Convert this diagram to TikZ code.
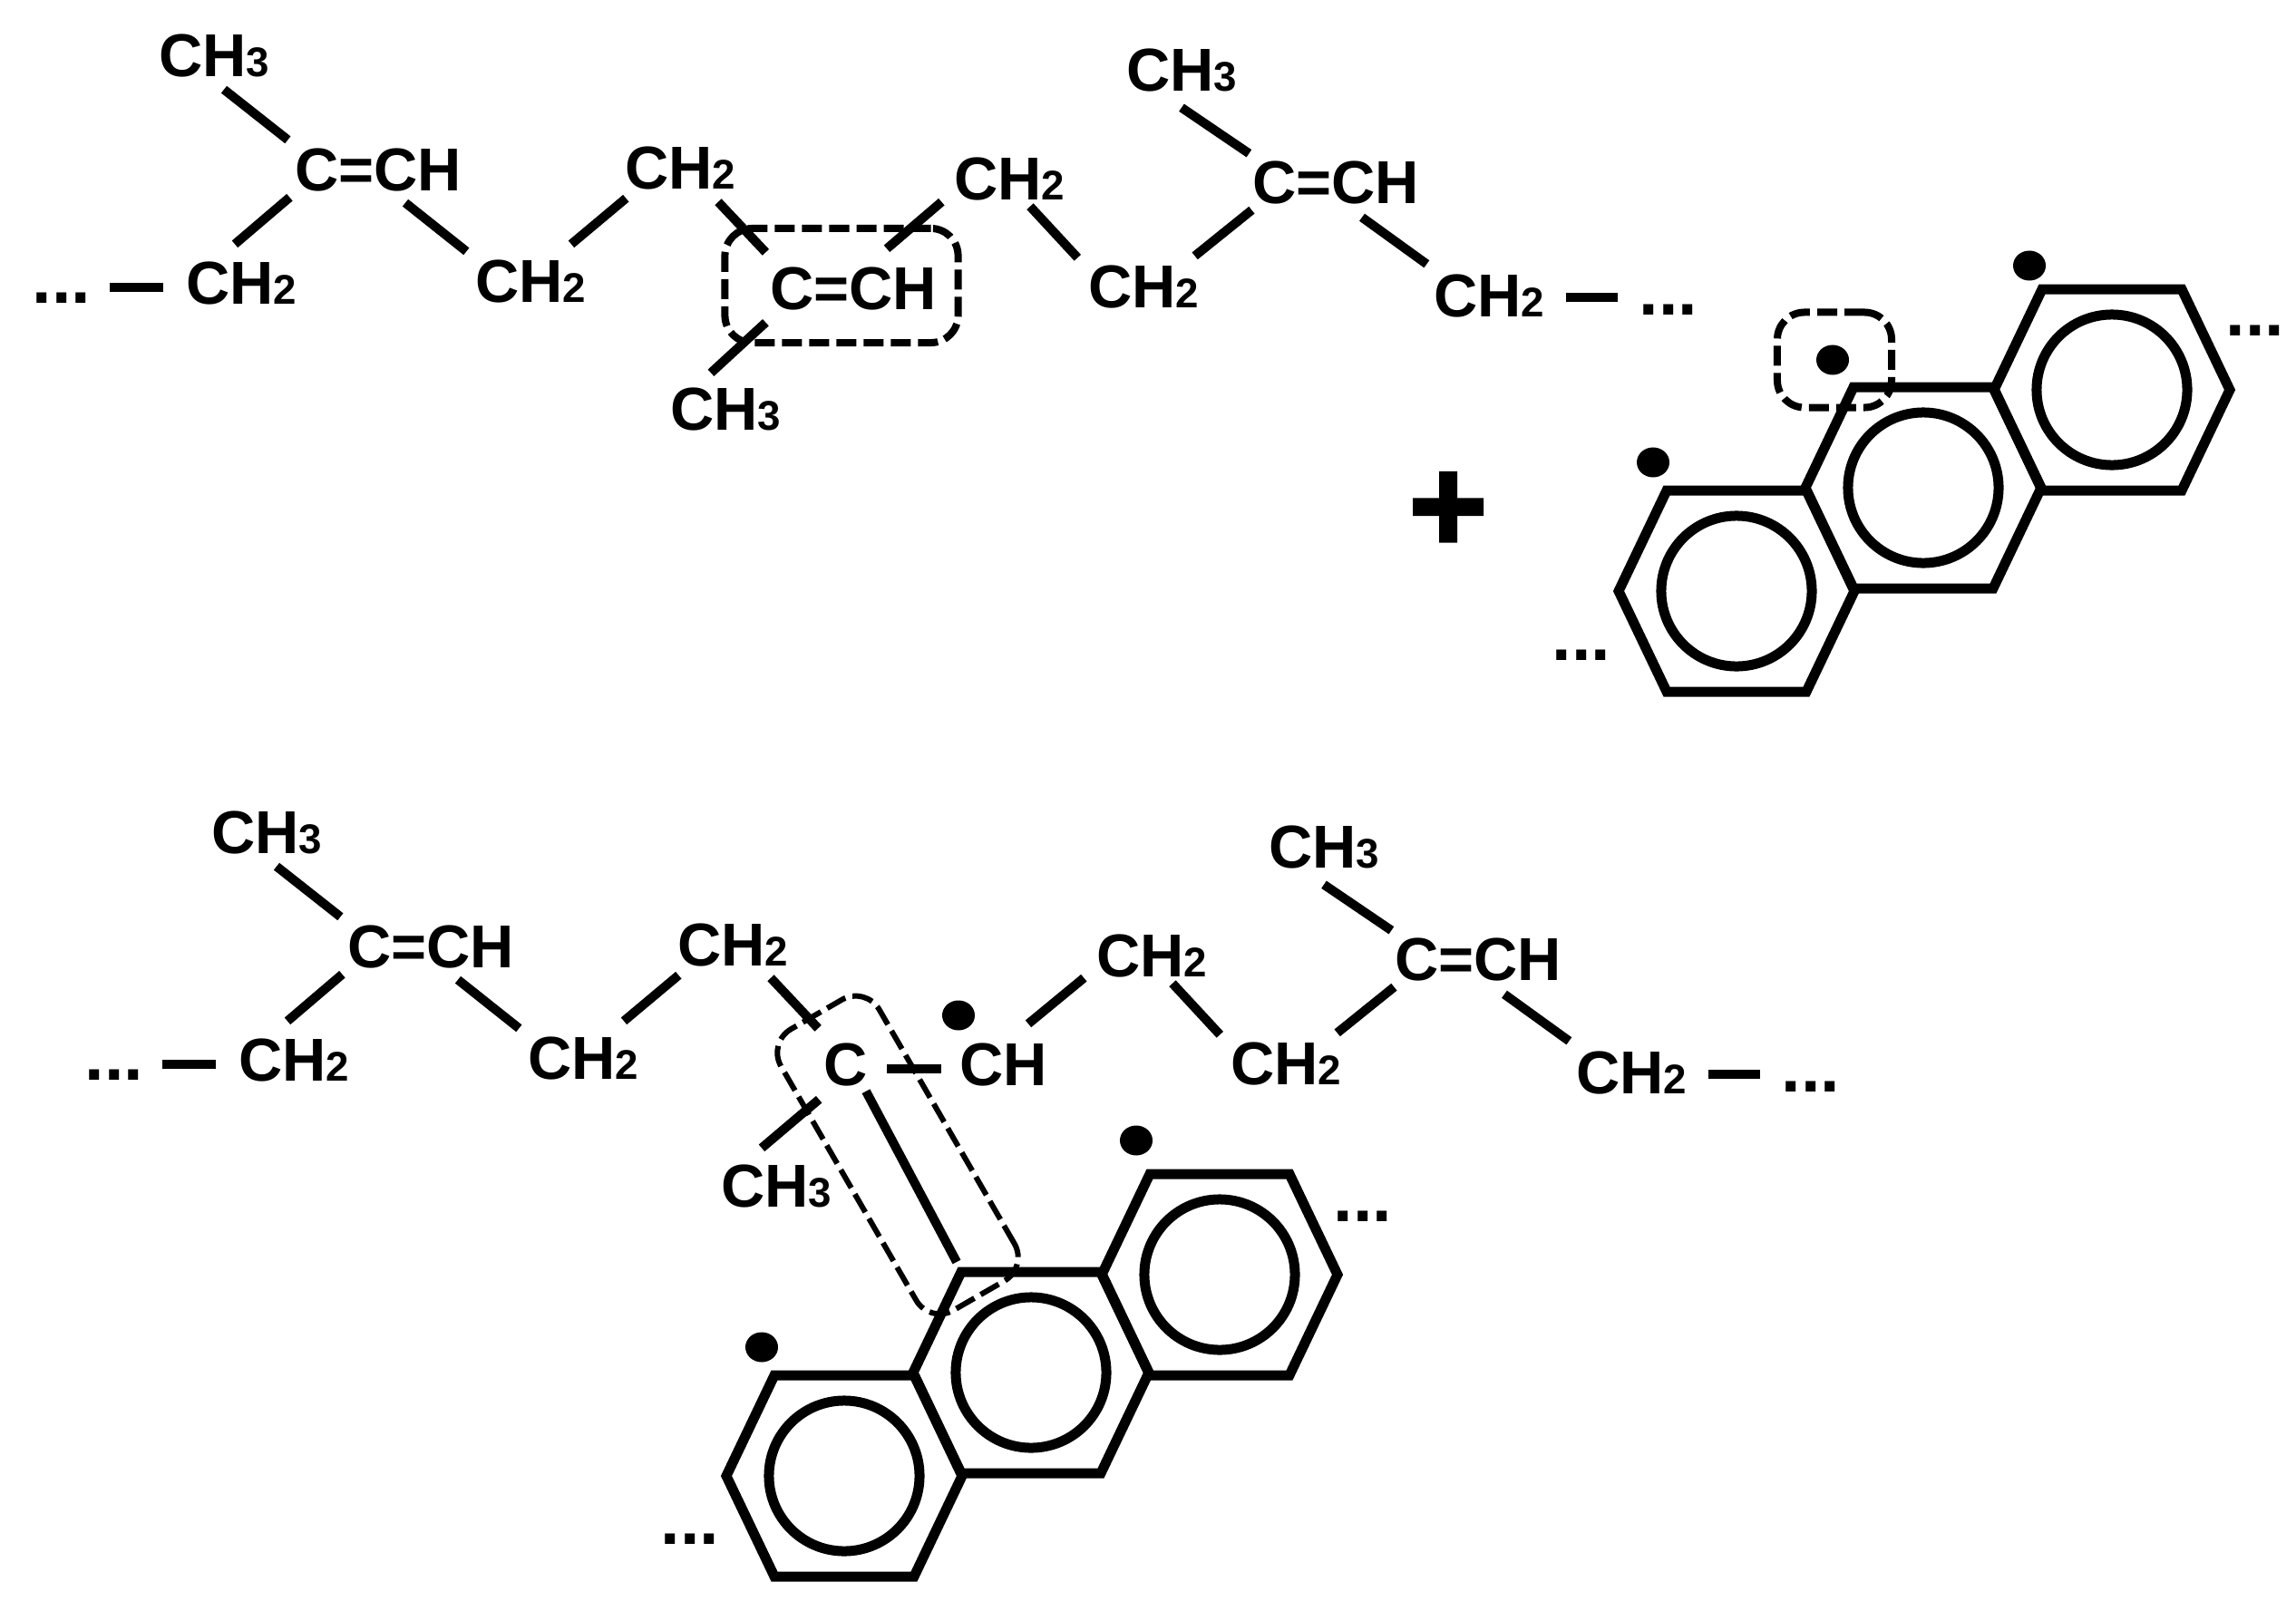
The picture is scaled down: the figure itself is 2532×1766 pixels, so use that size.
\documentclass[tikz,border=0pt]{standalone}
\usepackage{fontspec}
\setmainfont{Liberation Sans}
\usetikzlibrary{shapes.geometric}
\newcommand{\subdig}[1]{{\fontsize{13}{13}\selectfont #1}}
\begin{document}
\begin{tikzpicture}[x=0.01cm,y=-0.01cm,
  chem/.style={font=\fontsize{19}{23}\selectfont\bfseries,inner sep=0pt,text height=0.48cm,text depth=0pt},
  ellip/.style={font=\fontsize{22}{22}\selectfont\bfseries,inner sep=0pt,text height=0.48cm,text depth=0pt},
  bond/.style={line width=0.1cm},
  ringedge/.style={line width=0.11cm},
  ringcircle/.style={draw,circle,line width=0.11cm,inner sep=0pt,minimum size=1.66cm},
  dot/.style={fill,ellipse,inner sep=0pt,minimum width=0.36cm,minimum height=0.33cm},
  boxthick/.style={draw,rounded corners=0.3cm,line width=0.08cm,dash pattern=on 0.22cm off 0.08cm},
  boxthin/.style={draw,rounded corners=0.3cm,line width=0.06cm,dash pattern=on 0.23cm off 0.08cm}]
  \useasboundingbox (0,0) rectangle (2532,1766);
  % upper chain
  \node[ellip] (dotsa) at (68,310) {...};
  \node[chem] (ch3a) at (236,60) {CH\subdig{3}};
  \node[chem] (cca) at (417,186) {C=CH};
  \node[chem] (ch2a) at (266,311) {CH\subdig{2}};
  \node[chem] (ch2b) at (585,309) {CH\subdig{2}};
  \node[chem] (ch2c) at (750,184) {CH\subdig{2}};
  \node[chem] (ccb) at (941,317) {C=CH};
  \node[chem] (ch3b) at (800,450) {CH\subdig{3}};
  \node[chem] (ch2d) at (1113,196) {CH\subdig{2}};
  \node[chem] (ch2e) at (1261,315) {CH\subdig{2}};
  \node[chem] (ch3c) at (1303,76) {CH\subdig{3}};
  \node[chem] (ccc) at (1473,200) {C=CH};
  \node[chem] (ch2f) at (1642,325) {CH\subdig{2}};
  \node[ellip] (dotsb) at (1840,323) {...};
  \draw[bond] ([shift={(20,7)}]dotsa.east)--([shift={(-24,6)}]ch2a.west);
  \draw[bond] ([shift={(11,14)}]ch3a.south)--([shift={(-7,-7)}]cca.north west);
  \draw[bond] ([shift={(-5,7)}]cca.south west)--([shift={(-7,-17)}]ch2a.north);
  \draw[bond] ([shift={(30,13)}]cca.south)--([shift={(-9,-7)}]ch2b.north west);
  \draw[bond] ([shift={(45,-15)}]ch2b.north)--([shift={(2,10)}]ch2c.south west);
  \draw[bond] ([shift={(42,14)}]ch2c.south)--([shift={(-4,-14)}]ccb.north west);
  \draw[bond] ([shift={(37,-18)}]ccb.north)--([shift={(-13,2)}]ch2d.south west);
  \draw[bond] ([shift={(-4,14)}]ccb.south west)--([shift={(-16,-14)}]ch3b.north);
  \draw[bond] ([shift={(23,7)}]ch2d.south)--([shift={(-11,-6)}]ch2e.north west);
  \draw[bond] ([shift={(-5,-8)}]ch2e.north east)--([shift={(0,7)}]ccc.south west);
  \draw[bond] ([shift={(0,18)}]ch3c.south)--([shift={(-3,-6)}]ccc.north west);
  \draw[bond] ([shift={(29,15)}]ccc.south)--([shift={(-7,-9)}]ch2f.north west);
  \draw[bond] ([shift={(23,3)}]ch2f.east)--([shift={(-23,5)}]dotsb.west);
  \node[boxthick,minimum width=2.57cm,minimum height=1.26cm] (boxa) at (928,315) {};
  % lower chain
  \node[ellip] (dotsc) at (126,1167) {...};
  \node[chem] (ch3d) at (294,917) {CH\subdig{3}};
  \node[chem] (ccd) at (475,1043) {C=CH};
  \node[chem] (ch2g) at (324,1168) {CH\subdig{2}};
  \node[chem] (ch2h) at (643,1166) {CH\subdig{2}};
  \node[chem] (ch2i) at (808,1041) {CH\subdig{2}};
  \node[chem] (cnode) at (933,1173) {C};
  \node[chem] (chnode) at (1107,1173) {CH};
  \node[chem] (ch3f) at (856,1307) {CH\subdig{3}};
  \node[chem] (ch2j) at (1270,1053) {CH\subdig{2}};
  \node[chem] (ch2k) at (1418,1172) {CH\subdig{2}};
  \node[chem] (ch3e) at (1460,933) {CH\subdig{3}};
  \node[chem] (cce) at (1630,1057) {C=CH};
  \node[chem] (ch2l) at (1799,1182) {CH\subdig{2}};
  \node[ellip] (dotsd) at (1997,1180) {...};
  % rings
  \foreach \nm/\cx/\cy in {ringa/1915/652,ringb/2121/538,ringc/2329/430,
    ringd/931/1628,ringe/1137/1514,ringf/1345/1406}{
    \node[ringcircle] (\nm) at (\cx,\cy) {};
    \coordinate (\nm-tl) at ([shift={(-77,-111)}]\nm.center);
    \draw[ringedge] ([shift={(-130,0)}]\nm.center)--++(53,-111)--++(154,0)--++(53,111)--++(-53,111)--++(-154,0)--cycle;
  }
  \draw[bond] ([shift={(20,7)}]dotsc.east)--([shift={(-24,6)}]ch2g.west);
  \draw[bond] ([shift={(11,14)}]ch3d.south)--([shift={(-7,-7)}]ccd.north west);
  \draw[bond] ([shift={(-5,7)}]ccd.south west)--([shift={(-7,-17)}]ch2g.north);
  \draw[bond] ([shift={(30,13)}]ccd.south)--([shift={(-9,-7)}]ch2h.north west);
  \draw[bond] ([shift={(45,-15)}]ch2h.north)--([shift={(2,10)}]ch2i.south west);
  \draw[bond] ([shift={(42,13)}]ch2i.south)--([shift={(-6,-14)}]cnode.north west);
  \draw[bond] ([shift={(20,6)}]cnode.east)--([shift={(-20,6)}]chnode.west);
  \draw[bond] ([shift={(-5,15)}]cnode.south west)--([shift={(-16,-16)}]ch3f.north);
  \draw[bond] ([shift={(22,6)}]cnode.south)--([shift={(-5,-11)}]ringe-tl);
  \draw[bond] ([shift={(27,-19)}]chnode.north)--([shift={(-13,1)}]ch2j.south west);
  \draw[bond] ([shift={(23,7)}]ch2j.south)--([shift={(-11,-6)}]ch2k.north west);
  \draw[bond] ([shift={(-5,-8)}]ch2k.north east)--([shift={(0,7)}]cce.south west);
  \draw[bond] ([shift={(0,18)}]ch3e.south)--([shift={(-3,-6)}]cce.north west);
  \draw[bond] ([shift={(29,15)}]cce.south)--([shift={(-7,-9)}]ch2l.north west);
  \draw[bond] ([shift={(23,3)}]ch2l.east)--([shift={(-23,5)}]dotsd.west);
  \node[boxthin,minimum width=3.58cm,minimum height=1.25cm,rotate=-60] (boxc) at (990,1274) {};
  % radicals
  \node[dot] (dota) at (2238,293) {};
  \node[dot] (dotb) at (2021,397) {};
  \node[dot] (dotc) at (1823,510) {};
  \node[dot] (dotd) at (1057,1120) {};
  \node[dot] (dote) at (1253,1258) {};
  \node[dot] (dotf) at (840,1486) {};
  \node[boxthick,minimum width=1.26cm,minimum height=1.05cm] (boxb) at (2023,397) {};
  \node[ellip] (dotse) at (2487,346) {...};
  \node[ellip] (dotsf) at (1744,704) {...};
  \node[ellip] (dotsg) at (1503,1323) {...};
  \node[ellip] (dotsh) at (761,1679) {...};
  \node[inner sep=0pt,font=\fontsize{42}{42}\selectfont\addfontfeature{FakeBold=2.5}\bfseries] (plus) at (1597,565) {+};
\end{tikzpicture}
\end{document}
